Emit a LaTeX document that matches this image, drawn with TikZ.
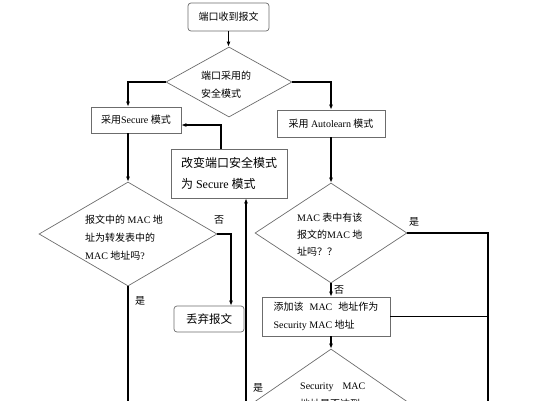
\documentclass[tikz,border=0pt]{standalone}
\usepackage{fontspec}
\setmainfont{Liberation Serif}
\newfontfamily\cjkfont{Noto Sans CJK SC}
\newcommand\zhs[1]{{\cjkfont #1}}
\usetikzlibrary{shapes.geometric,arrows.meta}
\begin{document}
\begin{tikzpicture}[x=1pt,y=-1pt,
  box/.style={draw=gray!85!black, line width=0.7pt, rectangle, inner sep=0pt, align=left, font=\fontsize{10}{18}\selectfont},
  rbox/.style={box, rounded corners=3pt},
  dia/.style={draw=gray!85!black, line width=0.7pt, diamond, inner sep=0pt},
  txt/.style={inner sep=0pt, align=left, font=\fontsize{10}{18}\selectfont},
  flow/.style={draw=black, line width=1.2pt},
  arr/.style={flow, -{Latex[length=5pt,width=4pt]}},
  lab/.style={inner sep=0pt, font=\fontsize{10}{12}\selectfont}]
\useasboundingbox (0,0) rectangle (537,400);
\clip (0,0) rectangle (537,400);
% boxes
\node[rbox, minimum width=81pt, minimum height=28pt] (start) at (228.5,17) {\zhs{端口收到报文}};
\node[box, minimum width=90pt, minimum height=26pt] (secure) at (136,120) {\zhs{采用}Secure \zhs{模式}};
\node[box, minimum width=108pt, minimum height=27pt] (auto) at (331,123.5) {\zhs{采用} Autolearn \zhs{模式}};
\node[box, minimum width=116pt, minimum height=49pt, font=\fontsize{12}{21}\selectfont] (change) at (229,173.5) {\zhs{改变端口安全模式}\\\zhs{为} Secure \zhs{模式}};
\node[rbox, minimum width=70pt, minimum height=26pt, font=\fontsize{11.5}{14}\selectfont] (discard) at (209,319) {\zhs{丢弃报文}};
\node[box, minimum width=128pt, minimum height=39pt] (add) at (326,316.5) {\zhs{添加该}\hspace{6pt}MAC\hspace{6pt}\zhs{地址作为}\\Security MAC \zhs{地址}};
% diamonds
\node[dia, minimum width=126pt, minimum height=70pt] (d1) at (229,82) {};
\node[dia, minimum width=178pt, minimum height=104pt] (d2) at (128,234) {};
\node[dia, minimum width=152pt, minimum height=100pt] (d3) at (331,233) {};
\node[dia, minimum width=174pt, minimum height=120pt] (d4) at (331,409) {};
% diamond texts
\node[txt, anchor=west] (t1) at (201,85) {\zhs{端口采用的}\\\zhs{安全模式}};
\node[txt, anchor=west] (t2) at (85,238) {\zhs{报文中的} MAC \zhs{地}\\\zhs{址为转发表中的}\\MAC \zhs{地址吗}?};
\node[txt, anchor=west, font=\fontsize{10}{17}\selectfont] (t3) at (297,235) {MAC \zhs{表中有该}\\\zhs{报文的}MAC \zhs{地}\\\zhs{址吗？？}};
\node[txt, anchor=west] (t4) at (300,396) {Security\hspace{9pt}MAC\\\zhs{地址是否达到}};
% helper coordinates
\coordinate (c1) at (221,125);
\coordinate (c2) at (231,0);
\coordinate (c3) at (488,402);
\coordinate (e1) at (0,402);
\coordinate (e2) at (246,402);
% connectors
\draw[arr] (start.south) -- (start.south |- d1.north);
\draw[arr] (d1.west) -| (secure.north -| d2.north);
\draw[arr] (d1.east) -| (auto.north);
\draw[arr] (auto.south) -- (d3.north);
\draw[arr] (secure.south -| d2.north) -- (d2.north);
\draw[arr] (change.north -| c1) |- (secure.east |- c1);
\draw[arr] (d2.east) -| (discard.north -| c2);
\draw[flow] (d2.south) -- (d2.south |- e1);
\draw[arr] (e2) -- (e2 |- change.south);
\draw[flow] (d3.east) -| (c3);
\draw[flow] (add.east) -- (add.east -| c3);
\draw[arr] (d3.south) -- (d3.south |- add.north);
\draw[arr] (add.south -| d4.north) -- (d4.north);
% labels
\node[lab] (l1) at (219,220) {\zhs{否}};
\node[lab] (l2) at (140,301) {\zhs{是}};
\node[lab] (l3) at (414,222) {\zhs{是}};
\node[lab] (l4) at (339,290) {\zhs{否}};
\node[lab] (l5) at (258,388) {\zhs{是}};
\end{tikzpicture}
\end{document}
